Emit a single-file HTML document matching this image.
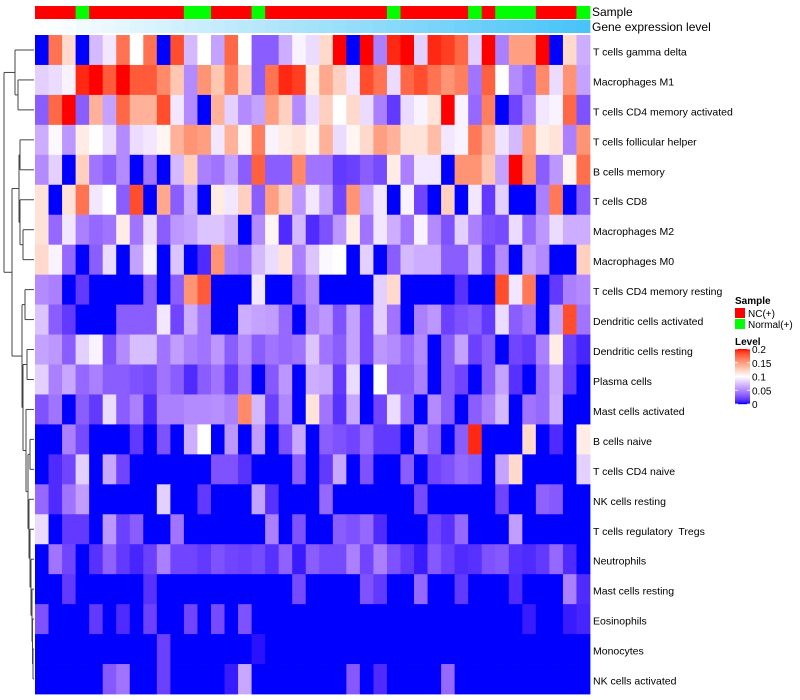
<!DOCTYPE html>
<html><head><meta charset="utf-8"><style>
html,body{margin:0;padding:0;background:#fff;}
svg{display:block;font-family:"Liberation Sans",sans-serif;}
#rowlabels text{white-space:pre;}
</style></head><body>
<svg id="chart" width="800" height="700" viewBox="0 0 800 700" xmlns="http://www.w3.org/2000/svg">
<g id="dendro"></g>
<g id="cells"></g>
<g id="annot"></g>
<g id="rowlabels"></g>
<text x="592" y="16" font-size="12">Sample</text>
<text x="592" y="31" font-size="12">Gene expression level</text>
<g>
<text x="735" y="304" font-size="10" font-weight="bold">Sample</text>
<rect x="735" y="308" width="10" height="10" fill="#FF0000"/>
<text x="748" y="317" font-size="10">NC(+)</text>
<rect x="735" y="319" width="10" height="10" fill="#00FF00"/>
<text x="748" y="328" font-size="10">Normal(+)</text>
<text x="735" y="345" font-size="10" font-weight="bold">Level</text>
<g id="lvlgrad"></g>
</g>
</svg>
<script>
const rowNames=["T cells gamma delta","Macrophages M1","T cells CD4 memory activated","T cells follicular helper","B cells memory","T cells CD8","Macrophages M2","Macrophages M0","T cells CD4 memory resting","Dendritic cells activated","Dendritic cells resting","Plasma cells","Mast cells activated","B cells naive","T cells CD4 naive","NK cells resting","T cells regulatory  Tregs","Neutrophils","Mast cells resting","Eosinophils","Monocytes","NK cells activated"];
const sampleGroups=["NC","NC","NC","Normal","NC","NC","NC","NC","NC","NC","NC","Normal","Normal","NC","NC","NC","Normal","NC","NC","NC","NC","NC","NC","NC","NC","NC","Normal","NC","NC","NC","NC","NC","Normal","NC","Normal","Normal","Normal","NC","NC","NC","Normal"];
const legendTicks=[0,0.05,0.1,0.15,0.2];
const r0=[0,.17,.12,0,.07,.09,.17,.1,.17,0,.185,.07,.1,.06,.175,.1,.03,.03,.065,.095,.085,.12,.2,0,.2,.045,.195,.2,.08,.195,.19,.175,.08,.2,.045,.15,.15,.2,0,.12,.065];
const r1=[.08,.085,.095,.195,.2,.18,.2,.18,.18,.16,.13,.05,.155,.13,.165,.125,.03,.17,.195,.19,.11,.145,.125,.09,.185,.17,.085,.175,.185,.17,.155,.165,.04,.178,.1,.05,.035,.16,.085,.155,.06];
const r2=[.03,.175,.2,.03,.14,.06,.175,.14,.14,.185,.09,.05,0,.14,.08,.05,.06,.15,.125,.05,.085,.125,.1,.12,.085,.045,.015,.085,.095,.115,.2,.095,.035,.165,0,.02,.05,.09,.095,.175,.025];
const r3=[.065,.097,.055,.11,.1,.085,.05,.085,.09,.105,.14,.155,.15,.09,.14,.105,.165,.095,.11,.115,.105,.14,.085,.105,.12,.15,.14,.115,.115,.135,.09,.095,.168,.14,.088,.07,.15,.11,.115,.045,.155];
const r4=[.05,.08,0,.125,.04,.03,.05,0,.04,0,.07,.125,.045,.04,.06,.03,.178,.03,.03,.16,.04,.04,.015,.018,.03,.022,.11,.045,.09,.09,0,.155,.155,.13,.06,.2,.155,.03,.055,.105,.172];
const r5=[.115,0,.115,.17,.09,.1,.03,.185,0,.145,.03,.065,0,.11,.09,.125,.03,.15,.125,.055,.09,.06,.02,.155,.06,.09,0,.095,.02,0,.125,0,.09,.015,.08,0,0,.045,.168,0,.03];
const r6=[.115,.035,.09,.045,.035,.04,.11,.04,.085,.03,.055,.06,.075,.075,.065,0,.05,.105,.01,.07,.01,.025,.055,.11,.04,.09,.065,.04,.095,.05,.025,.08,.045,.025,.022,.085,.035,.055,.085,.065,.065];
const r7=[.12,.095,.035,0,.03,.085,0,.06,.095,0,.075,0,.01,.155,.045,.04,.07,.085,.115,.045,.075,.097,.1,0,.08,0,.03,.07,.065,.065,.03,.03,.07,.015,.05,0,.06,.05,0,0,.125];
const r8=[.05,.045,0,.015,0,0,0,0,.03,0,.03,.155,.18,0,0,0,.09,0,0,.03,.05,0,0,0,0,.08,.12,0,0,0,0,.012,0,0,.185,.09,.168,0,.015,.045,.05];
const r9=[.075,.03,.015,0,0,0,.03,.03,.03,.09,.02,.065,.04,0,0,.065,.06,.058,.035,0,.045,.055,.025,.06,.02,.08,.04,0,.045,.055,.018,.025,.03,.015,.085,.03,.04,0,.06,.185,.04];
const r10=[.06,.055,.03,.08,.095,.025,.05,.072,.072,.04,.058,.045,.04,.055,.03,.05,.03,.04,.035,.04,.075,.04,.03,.06,.02,.055,.05,.035,.05,0,.03,.06,.018,.03,0,.02,.015,.045,.11,.018,.008];
const r11=[.08,.045,.062,.035,.045,.03,.03,.025,.022,.04,.03,.01,.03,.04,.015,.04,0,.028,.055,0,.065,.062,.015,.085,0,.1,.03,.03,.045,0,.03,.02,0,.03,.06,.012,0,.035,.062,.015,0];
const r12=[.025,.04,0,.03,.015,.085,.03,.045,.01,.045,.045,.05,.05,.052,.045,.16,.07,.018,.048,0,.115,.04,.012,.062,0,.02,.085,.035,0,.05,.03,0,.03,.045,.07,0,.04,.035,.065,0,0];
const r13=[0,0,.045,.022,0,0,0,.015,0,.025,0,.065,.1,0,.055,0,.058,0,.025,.062,0,.03,.025,.02,.035,.015,.015,0,.045,.03,0,.03,.195,0,0,0,.12,0,.01,0,.11];
const r14=[0,.01,.02,.08,0,.062,.02,0,0,0,0,0,0,.025,.025,.012,0,0,0,.03,0,.015,.062,0,.025,0,0,.03,0,.02,.025,.035,.03,0,.06,.12,0,0,0,0,.08];
const r15=[.035,.01,.04,.058,0,0,0,0,0,.08,0,0,.015,0,0,0,.06,.012,0,0,0,.035,0,0,0,0,0,0,.022,0,0,0,0,0,.02,0,0,.032,.028,0,0];
const r16=[.085,0,.015,.015,0,.055,.018,.03,0,0,.04,0,0,0,0,0,0,.045,0,.025,0,0,.03,.025,.035,.01,0,0,0,.02,.012,.035,0,0,0,.058,0,0,0,0,0];
const r17=[0,.04,.02,0,.012,.032,.015,.008,.018,.045,.02,.02,.015,.025,.02,.018,.022,.012,.032,.005,.03,.022,.022,.045,.02,.045,.025,.015,.005,.028,.018,.01,.012,.025,.028,.012,.01,.015,.035,.01,0];
const r18=[0,0,.015,0,0,0,0,0,.012,0,0,0,0,0,0,0,0,0,0,.022,0,0,0,0,.025,.015,0,0,.035,0,0,.015,0,0,0,.01,0,0,0,.045,.01];
const r19=[.025,0,0,0,.015,0,.01,0,.018,0,0,.02,0,.022,0,.025,0,0,0,0,0,0,0,0,0,0,0,0,0,0,0,0,0,0,0,0,.005,0,0,.005,.008];
const r20=[0,0,0,0,0,0,0,0,0,.018,0,0,0,0,0,0,.003,0,0,0,0,0,0,0,0,0,0,0,0,0,0,0,0,0,0,0,0,0,0,0,0];
const r21=[0,0,0,0,0,.028,.04,0,0,.018,0,0,0,0,.005,.062,0,0,0,0,0,0,0,.028,0,.01,0,0,0,0,.035,0,0,0,0,0,0,0,0,0,0];
const values=[r0,r1,r2,r3,r4,r5,r6,r7,r8,r9,r10,r11,r12,r13,r14,r15,r16,r17,r18,r19,r20,r21];

const NS="http://www.w3.org/2000/svg";
const X0=35,X1=590,Y0=35,Y1=694;
const nCol=values[0].length,nRow=values.length;
const cw=(X1-X0)/nCol,rh=(Y1-Y0)/nRow;
const xPos=j=>X0+j*cw;
const yPos=i=>Y0+i*rh;
function mk(tag,attrs,parent){const e=document.createElementNS(NS,tag);for(const k in attrs)e.setAttribute(k,attrs[k]);parent.appendChild(e);return e;}
function s2l(c){c/=255;return c<=0.04045?c/12.92:Math.pow((c+0.055)/1.055,2.4);}
function l2s(c){c=c<=0.0031308?12.92*c:1.055*Math.pow(c,1/2.4)-0.055;return Math.max(0,Math.min(255,Math.round(c*255)));}
function toLab(r,g,b){r=s2l(r);g=s2l(g);b=s2l(b);let x=(0.4124*r+0.3576*g+0.1805*b)/0.95047,y=0.2126*r+0.7152*g+0.0722*b,z=(0.0193*r+0.1192*g+0.9505*b)/1.08883;const f=t=>t>0.008856?Math.cbrt(t):7.787*t+16/116;x=f(x);y=f(y);z=f(z);return[116*y-16,500*(x-y),200*(y-z)];}
function fromLab(L,a,bb){let y=(L+16)/116,x=a/500+y,z=y-bb/200;const fi=t=>t*t*t>0.008856?t*t*t:(t-16/116)/7.787;x=fi(x)*0.95047;y=fi(y);z=fi(z)*1.08883;const r=3.2406*x-1.5372*y-0.4986*z,g=-0.9689*x+1.8758*y+0.0415*z,b=0.0557*x-0.2040*y+1.0570*z;return`rgb(${l2s(r)},${l2s(g)},${l2s(b)})`;}
const LB=toLab(0,0,255),LW=toLab(255,255,255),LR=toLab(255,0,0);
function col(v){v=Math.max(0,Math.min(0.2,v));let a,b,t;if(v<=0.1){a=LB;b=LW;t=v/0.1;}else{a=LW;b=LR;t=(v-0.1)/0.1;}return fromLab(a[0]+(b[0]-a[0])*t,a[1]+(b[1]-a[1])*t,a[2]+(b[2]-a[2])*t);}

const cells=document.getElementById('cells');
values.forEach((row,i)=>row.forEach((v,j)=>{
 const r=mk('rect',{x:xPos(j).toFixed(2),y:yPos(i).toFixed(2),width:(cw+0.4).toFixed(2),height:(rh+0.4).toFixed(2),fill:col(v)},cells);
 
 
}));
const rl=document.getElementById('rowlabels');
rowNames.forEach((n,i)=>{
 const t=mk('text',{x:593,y:(yPos(i)+rh/2+5.5).toFixed(1),'font-size':'10.5'},rl);t.textContent=n;
 
 
});
const an=document.getElementById('annot');
sampleGroups.forEach((g,j)=>{
 const r=mk('rect',{x:xPos(j).toFixed(2),y:6,width:(cw+0.4).toFixed(2),height:13,fill:g==="NC"?"#FF0000":"#00FF00"},an);
 
 
 const t=j/(nCol-1);
 const c=`rgb(${Math.round(255-(255-72)*t)},${Math.round(255-(255-196)*t)},${Math.round(255-(255-248)*t)})`;
 const r2=mk('rect',{x:xPos(j).toFixed(2),y:20,width:(cw+0.4).toFixed(2),height:13,fill:c},an);
 
 
});
const lg=document.getElementById('lvlgrad');
const gy0=349,gy1=404;
for(let k=0;k<55;k++){const v=0.2*(1-k/54);const r=mk('rect',{x:735,y:gy0+k,width:15,height:1.2,fill:col(v)},lg);}
legendTicks.forEach(v=>{const y=gy1-(v/0.2)*(gy1-gy0);
 mk('line',{x1:735,x2:738,y1:y,y2:y,stroke:'#fff','stroke-width':0.8},lg);
 mk('line',{x1:747,x2:750,y1:y,y2:y,stroke:'#fff','stroke-width':0.8},lg);
 const t=mk('text',{x:752,y:(y+4).toFixed(1),'font-size':'10'},lg);t.textContent=String(v);
 
 });
const tree={h:4,c:[{h:15,c:[0,{h:18,c:[1,2]}]},{h:12,c:[{h:19,c:[{h:20,c:[3,4]},{h:20,c:[5,{h:23,c:[6,7]}]}]},{h:22,c:[{h:25,c:[8,9]},{h:23,c:[{h:27,c:[10,11]},{h:26,c:[12,{h:28,c:[{h:30,c:[13,14]},{h:29,c:[15,{h:30,c:[16,{h:31,c:[17,{h:32,c:[18,{h:32.5,c:[19,{h:33,c:[20,21]}]}]}]}]}]}]}]}]}]}]}]};
const dg=document.getElementById('dendro');
function draw(n){if(typeof n==='number')return{x:34,y:yPos(n)+rh/2};
 const a=draw(n.c[0]),b=draw(n.c[1]);
 mk('line',{x1:n.h,x2:a.x,y1:a.y,y2:a.y,stroke:'#444','stroke-width':1},dg);
 mk('line',{x1:n.h,x2:b.x,y1:b.y,y2:b.y,stroke:'#444','stroke-width':1},dg);
 mk('line',{x1:n.h,x2:n.h,y1:a.y,y2:b.y,stroke:'#444','stroke-width':1},dg);
 return{x:n.h,y:(a.y+b.y)/2};}
draw(tree);
</script>
</body></html>
